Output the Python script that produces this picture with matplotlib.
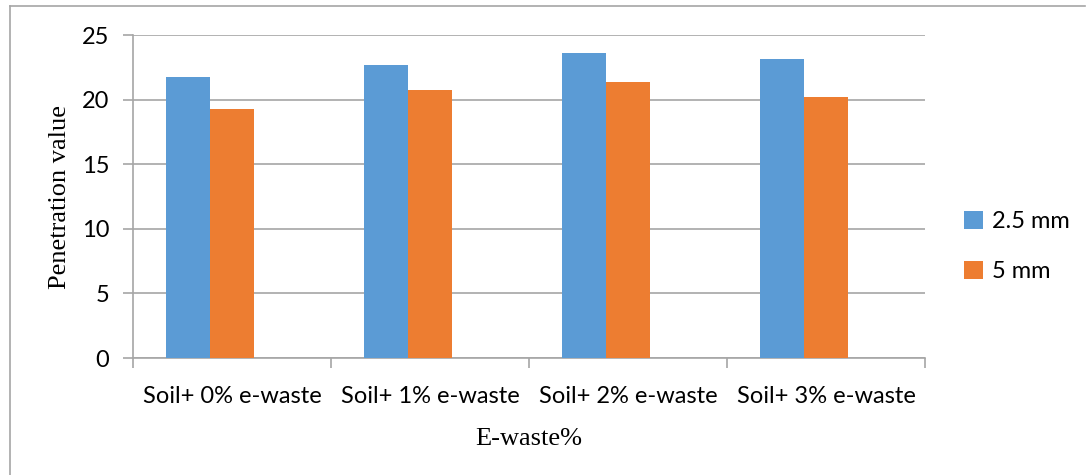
import numpy as np
import matplotlib.pyplot as plt
from matplotlib.lines import Line2D

categories = ['Soil+ 0% e-waste', 'Soil+ 1% e-waste', 'Soil+ 2% e-waste', 'Soil+ 3% e-waste']
pen_25 = [21.8, 22.7, 23.6, 23.2]
pen_5 = [19.3, 20.8, 21.4, 20.2]
series_names = ['2.5 mm', '5 mm']

blue = '#5B9BD5'
orange = '#ED7D31'
grid_col = '#A6A6A6'

fig = plt.figure(figsize=(10.86, 4.75), dpi=100)
ax = fig.add_axes([0.1225, 0.2463, 0.7292, 0.6794])

x = np.arange(len(categories))
w = 0.222
ax.bar(x - w, pen_25, width=w, color=blue, label=series_names[0], zorder=3)
ax.bar(x, pen_5, width=w, color=orange, label=series_names[1], zorder=3)

ax.set_xlim(-0.5, len(categories) - 0.5)
ax.set_ylim(0, 25)
ax.set_yticks(np.arange(0, 26, 5))
ax.yaxis.grid(True, color=grid_col, linewidth=1.2, zorder=0)

for s in ['top', 'right']:
    ax.spines[s].set_visible(False)
ax.spines['left'].set_color(grid_col)
ax.spines['bottom'].set_color(grid_col)
ax.spines['left'].set_linewidth(1.2)
ax.spines['bottom'].set_linewidth(1.2)

# category ticks sit between the groups
ax.set_xticks(np.arange(-0.5, len(categories), 1.0))
ax.set_xticklabels([])
ax.set_xticks(x, minor=True)
ax.set_xticklabels(categories, minor=True, fontsize=17, family='Lato')
ax.tick_params(axis='x', which='minor', length=0, pad=20)
ax.tick_params(axis='x', which='major', length=7, color=grid_col, width=1.2)
ax.tick_params(axis='y', length=7, color=grid_col, width=1.2, labelsize=17, pad=10)
for lbl in ax.get_yticklabels():
    lbl.set_family('Lato')

ax.set_ylabel('Penetration value', family='Liberation Serif', fontsize=19, labelpad=8)
ax.set_xlabel('E-waste%', family='Liberation Serif', fontsize=19, labelpad=15)

leg = fig.legend(loc='upper left', bbox_to_anchor=(0.868, 0.6), frameon=False,
                 prop={'family': 'Lato', 'size': 17}, handlelength=0.8,
                 handleheight=0.8, handletextpad=0.4, labelspacing=1.2)

# outer chart frame
fig.add_artist(Line2D([0.0095, 0.999], [0.987, 0.987], color=grid_col, linewidth=1.2, transform=fig.transFigure))
fig.add_artist(Line2D([0.0095, 0.0095], [0.0, 0.987], color=grid_col, linewidth=1.2, transform=fig.transFigure))

fig.savefig('out.png', dpi=100)
